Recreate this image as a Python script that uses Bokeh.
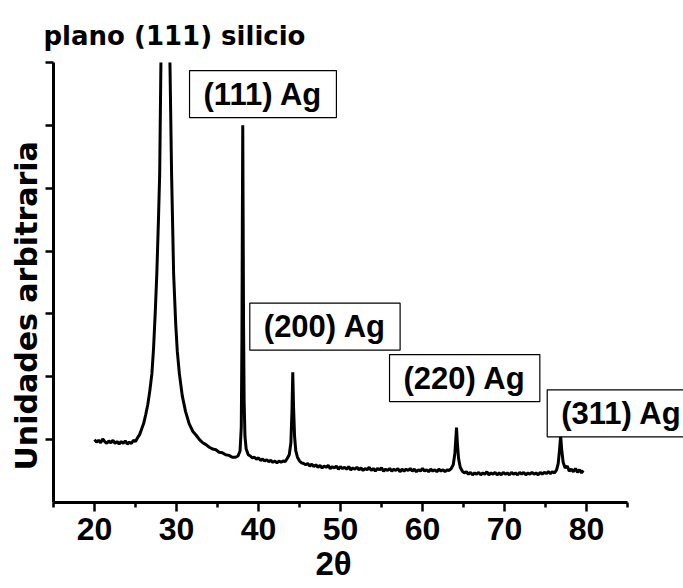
from bokeh.plotting import figure
from bokeh.models import Label, FixedTicker, Range1d, Title
from bokeh.embed import file_html
from bokeh.resources import INLINE

# ---------------- data ----------------
two_theta = [
    20.00, 20.25, 20.50, 20.75, 21.00, 21.25, 21.50, 21.75, 22.00, 22.25,
    22.50, 22.75, 23.00, 23.25, 23.50, 23.75, 24.00, 24.25, 24.50, 24.75,
    25.00, 25.25, 25.50, 25.75, 26.00, 26.25, 26.50, 26.75, 27.00, 27.20,
    27.40, 27.60, 27.80, 27.95, 28.10, 28.35, 28.65, 28.95, 29.20, 29.40,
    29.65, 29.90, 30.10, 30.35, 30.70, 31.10, 31.55, 32.00, 32.40, 32.80,
    33.20, 33.60, 34.00, 34.40, 34.80, 35.20, 35.60, 36.00, 36.40, 36.80,
    37.20, 37.50, 37.75, 37.90, 37.98, 38.03, 38.08, 38.13, 38.18, 38.25,
    38.35, 38.50, 38.75, 39.00, 39.25, 39.50, 39.75, 40.00, 40.25, 40.50,
    40.75, 41.00, 41.25, 41.50, 41.75, 42.00, 42.25, 42.50, 42.75, 43.00,
    43.25, 43.50, 43.75, 43.95, 44.08, 44.18, 44.28, 44.40, 44.55, 44.75,
    45.00, 45.25, 45.50, 45.75, 46.00, 46.25, 46.50, 46.75, 47.00, 47.25,
    47.50, 47.75, 48.00, 48.25, 48.50, 48.75, 49.00, 49.25, 49.50, 49.75,
    50.00, 50.25, 50.50, 50.75, 51.00, 51.25, 51.50, 51.75, 52.00, 52.25,
    52.50, 52.75, 53.00, 53.25, 53.50, 53.75, 54.00, 54.25, 54.50, 54.75,
    55.00, 55.25, 55.50, 55.75, 56.00, 56.25, 56.50, 56.75, 57.00, 57.25,
    57.50, 57.75, 58.00, 58.25, 58.50, 58.75, 59.00, 59.25, 59.50, 59.75,
    60.00, 60.25, 60.50, 60.75, 61.00, 61.25, 61.50, 61.75, 62.00, 62.25,
    62.50, 62.75, 63.00, 63.25, 63.50, 63.75, 63.95, 64.08, 64.15, 64.25,
    64.40, 64.60, 64.85, 65.10, 65.35, 65.60, 65.85, 66.10, 66.35, 66.60,
    66.85, 67.10, 67.35, 67.60, 67.85, 68.10, 68.35, 68.60, 68.85, 69.10,
    69.35, 69.60, 69.85, 70.10, 70.35, 70.60, 70.85, 71.10, 71.35, 71.60,
    71.85, 72.10, 72.35, 72.60, 72.85, 73.10, 73.35, 73.60, 73.85, 74.10,
    74.35, 74.60, 74.85, 75.10, 75.35, 75.60, 75.85, 76.10, 76.35, 76.55,
    76.72, 76.85, 76.97, 77.15, 77.40, 77.65, 77.90, 78.15, 78.40, 78.65,
    78.90, 79.15, 79.40, 79.60,
]

intensity = [
    1.00, 0.96, 0.99, 0.95, 1.01, 0.97, 0.94, 0.98, 0.95, 0.99,
    0.94, 0.97, 0.93, 0.97, 0.94, 0.98, 0.93, 0.96, 0.94, 0.99,
    0.97, 1.03, 1.08, 1.17, 1.26, 1.40, 1.56, 1.78, 2.05, 2.45,
    3.00, 3.64, 4.50, 5.23, 7.00, 10.0, 12.0, 10.0, 7.00, 5.23,
    3.64, 2.85, 2.40, 2.05, 1.70, 1.45, 1.25, 1.13, 1.07, 1.00,
    0.95, 0.92, 0.88, 0.85, 0.84, 0.80, 0.79, 0.76, 0.75, 0.72,
    0.72, 0.74, 0.82, 1.20, 2.60, 4.40, 6.00, 4.40, 2.80, 1.60,
    1.05, 0.85, 0.76, 0.74, 0.71, 0.72, 0.69, 0.71, 0.67, 0.69,
    0.66, 0.68, 0.65, 0.67, 0.64, 0.66, 0.63, 0.66, 0.64, 0.66,
    0.65, 0.70, 0.76, 0.95, 1.45, 2.07, 1.50, 1.05, 0.82, 0.72,
    0.66, 0.63, 0.62, 0.60, 0.62, 0.58, 0.61, 0.57, 0.60, 0.56,
    0.59, 0.55, 0.58, 0.56, 0.59, 0.54, 0.57, 0.55, 0.58, 0.53,
    0.57, 0.54, 0.56, 0.53, 0.57, 0.52, 0.55, 0.53, 0.56, 0.52,
    0.55, 0.51, 0.54, 0.52, 0.56, 0.51, 0.54, 0.50, 0.54, 0.52,
    0.55, 0.50, 0.53, 0.51, 0.54, 0.50, 0.53, 0.51, 0.54, 0.49,
    0.53, 0.50, 0.53, 0.51, 0.54, 0.50, 0.53, 0.49, 0.52, 0.50,
    0.54, 0.50, 0.52, 0.49, 0.53, 0.50, 0.52, 0.49, 0.53, 0.50,
    0.52, 0.49, 0.52, 0.51, 0.54, 0.60, 0.78, 1.05, 1.19, 0.95,
    0.70, 0.56, 0.50, 0.47, 0.49, 0.45, 0.48, 0.44, 0.47, 0.45,
    0.48, 0.44, 0.47, 0.45, 0.49, 0.44, 0.47, 0.45, 0.48, 0.44,
    0.47, 0.44, 0.48, 0.45, 0.47, 0.44, 0.48, 0.45, 0.47, 0.44,
    0.48, 0.45, 0.48, 0.44, 0.47, 0.45, 0.48, 0.45, 0.47, 0.44,
    0.48, 0.45, 0.48, 0.46, 0.49, 0.46, 0.49, 0.47, 0.52, 0.62,
    0.85, 1.06, 0.85, 0.64, 0.55, 0.58, 0.50, 0.53, 0.49, 0.54,
    0.48, 0.52, 0.47, 0.51,
]

x_ticks = [20, 30, 40, 50, 60, 70, 80]
x_minor_ticks = [15, 25, 35, 45, 55, 65, 75, 85]
y_ticks = [1, 2, 3, 4, 5, 6, 7]

title_text = "plano (111) silicio"
x_label = "2\u03b8"
y_label = "Unidades arbitraria"
peak_labels = ["(111) Ag", "(200) Ag", "(220) Ag", "(311) Ag"]

# ---------------- layout ----------------
label_pos = [(31.59, 6.872), (38.94, 3.171), (55.98, 2.354), (75.21, 1.793)]

W, H = 683, 588
p = figure(width=W, height=H,
           x_range=Range1d(15, 91.83), y_range=Range1d(0, 7),
           output_backend="svg", toolbar_location=None,
           min_border_left=53, min_border_right=0,
           min_border_top=62, min_border_bottom=86)
p.outline_line_color = None
p.background_fill_color = "white"
p.border_fill_color = "white"
p.xgrid.visible = False
p.ygrid.visible = False

p.line(two_theta, intensity, line_color="black", line_width=3)

xa = p.xaxis[0]
xa.bounds = (15, 85)
xa.ticker = FixedTicker(ticks=x_ticks, minor_ticks=x_minor_ticks)
xa.axis_line_width = 3
xa.major_tick_line_width = 2.5
xa.minor_tick_line_width = 2.5
xa.major_tick_out = 9
xa.major_tick_in = 0
xa.minor_tick_out = 5
xa.minor_tick_in = 0
xa.major_label_standoff = 6
xa.major_label_text_font = "Liberation Sans"
xa.major_label_text_font_style = "bold"
xa.major_label_text_font_size = "32px"
xa.major_label_text_color = "black"

ya = p.yaxis[0]
ya.ticker = FixedTicker(ticks=[], minor_ticks=y_ticks)
ya.axis_line_width = 3
ya.minor_tick_line_width = 2.5
ya.minor_tick_out = 8
ya.minor_tick_in = 0
ya.major_tick_out = 0
ya.major_label_standoff = 0

p.title = Title(text=title_text, align="left", offset=-10, standoff=24,
                text_font="DejaVu Sans", text_font_style="bold",
                text_font_size="26px", text_color="black")

p.add_layout(Title(text=y_label, align="left", offset=32, standoff=4,
                   text_font="DejaVu Sans", text_font_style="bold",
                   text_font_size="30px", text_color="black"), "left")

p.add_layout(Title(text=x_label, align="left", offset=262, standoff=0,
                   text_font="Liberation Sans", text_font_style="bold",
                   text_font_size="33px", text_color="black"), "below")

for txt, (lx, ly) in zip(peak_labels, label_pos):
    p.add_layout(Label(x=lx, y=ly, text=txt, anchor="top_left",
                       padding=(14, 6),
                       border_line_color="black", border_line_width=1.2,
                       background_fill_color="white",
                       text_font="Liberation Sans", text_font_style="bold",
                       text_font_size="31px", text_color="black"))

open("out.html", "w").write(file_html(p, INLINE))
